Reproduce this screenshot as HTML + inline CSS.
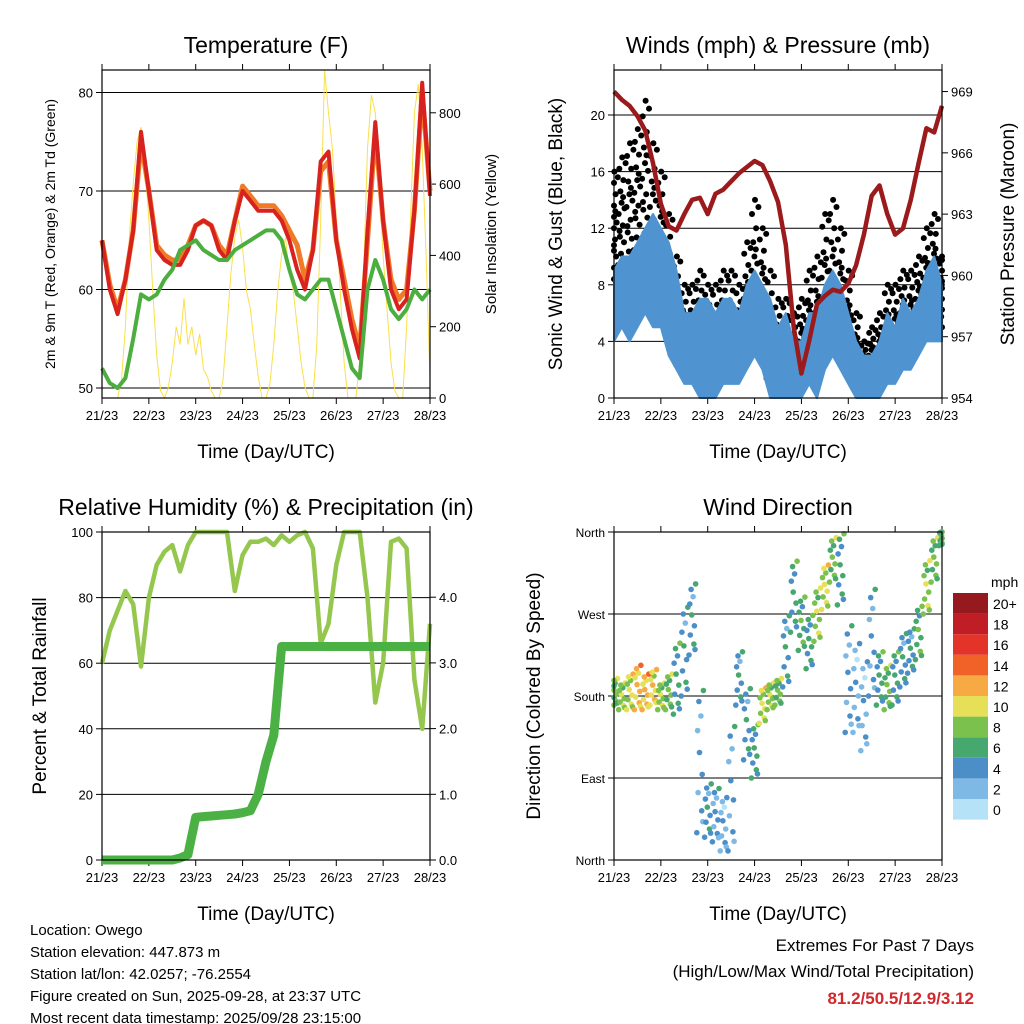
<!DOCTYPE html>
<html><head><meta charset="utf-8"><style>
body{margin:0;background:#fff}
svg{display:block;font-family:"Liberation Sans",sans-serif}
</style></head><body>
<svg id="c" width="1024" height="1024" viewBox="0 0 1024 1024">
<g id="layer"></g>
<g font-size="15" fill="#000">
<text x="30" y="935">Location: Owego</text>
<text x="30" y="957">Station elevation: 447.873 m</text>
<text x="30" y="979">Station lat/lon: 42.0257; -76.2554</text>
<text x="30" y="1001">Figure created on Sun, 2025-09-28, at 23:37 UTC</text>
<text x="30" y="1023">Most recent data timestamp: 2025/09/28 23:15:00</text>
</g>
<g text-anchor="end" font-size="17">
<text x="974" y="951">Extremes For Past 7 Days</text>
<text x="974" y="977">(High/Low/Max Wind/Total Precipitation)</text>
<text x="974" y="1004" fill="#d0282d" font-weight="bold">81.2/50.5/12.9/3.12</text>
</g>
</svg>
<script>
// ---- data (hours 0..168 every 4h unless noted) ----
const tempT2 = [65,60,57.5,61,66,76,70,64,63,62.5,62.5,64,66.5,67,66.5,64,63,67,70,69,68,68,68,67,65,62,60,64,73,74,65,60,56,53,66,77,67,60,58,59,68,81,69.5];
const tempT9 = [65,60.5,58,61,66,75,70,64.5,63.5,63,63,64.5,66.5,67,66.5,64.5,63.5,67,70.5,69.5,68.5,68.5,68.5,67.5,66,64.5,61,64,72,73,65,61,57,54,65,76,67,61,59,60,68,80,70];
const dewTd = [52,50.5,50,51,55,59.5,59,59.5,61,62,64,64.5,65,64,63.5,63,63,64,64.5,65,65.5,66,66,65,62,59.5,59,60,61,61,58,55,52,51,60,63,61,58,57,58,60,59,60];
// solar every 2h
const solar = [0,0,0,0,0,50,200,450,600,720,760,650,500,300,120,20,0,30,100,200,150,280,150,200,120,180,80,60,20,0,0,50,200,350,450,500,420,300,250,150,60,0,0,40,150,300,400,450,350,300,200,100,30,0,0,150,500,920,800,700,500,300,100,0,0,0,100,350,700,850,800,600,400,250,100,20,0,0,200,500,800,880,700,400,50];
const windLo = [4,5,4,5,6,5,5,3,2,1,1,0,0,0,1,1,1,2,3,2,0,0,0,0,0,1,0,2,3,2,1,0,0,0,0,1,1,2,2,3,4,4,4];
const windHi = [9,10,10,11,12,13,12,11,9,6,6,7,7,6,7,7,6,8,9,8,7,5,6,4,4,6,6,8,9,8,6,4,3,3,4,6,5,7,6,7,9,10,8];
const gustLo = [8,9,9,10,10,9,8,5,3,2,2,2,1,1,2,2,2,3,4,4,1,1,1,1,1,2,2,4,4,4,2,1,1,1,1,2,2,3,3,4,5,6,5];
const gustHi = [16,17,18,19,21,18,16,13,10,8,8,9,8,8,9,9,8,11,14,12,9,7,7,6,7,9,10,13,14,12,9,6,4,5,6,8,8,9,9,10,12,13,10];
const pressure = [969,968.6,968.3,967.8,967.1,965.5,963.5,962.4,962.2,963,963.7,963.8,963,964,964.2,964.6,965,965.3,965.6,965.4,964.6,963.6,961.5,957.5,955.2,956.8,958.6,959,959.3,959.2,959.6,960.5,962,963.9,964.4,963,962,962.3,963.7,965.5,967.2,967,968.3];
const rh = [60,70,76,82,78,59,80,90,94,96,88,96,100,100,100,100,100,82,93,97,97,98,96,99,97,99,100,95,66,72,90,100,100,100,80,48,60,97,98,95,55,40,72];
const precip = [0,0,0,0,0,0,0,0,0,0,0.03,0.08,0.65,0.66,0.67,0.68,0.69,0.7,0.72,0.75,1.0,1.5,1.9,3.25,3.25,3.25,3.25,3.25,3.25,3.25,3.25,3.25,3.25,3.25,3.25,3.25,3.25,3.25,3.25,3.25,3.25,3.25,3.25];
const windDir = [185,180,185,190,185,190,180,185,200,230,265,110,55,50,40,80,200,150,120,170,180,185,230,290,260,240,270,300,330,320,200,190,170,240,200,190,200,220,230,250,300,330,355];
const dirSpread = [15,15,20,25,20,20,15,20,40,50,40,80,30,30,30,70,30,40,30,20,15,15,40,40,30,30,30,25,25,40,60,50,50,60,30,25,30,30,25,30,30,25,10];
const dirSpeed = [7,8,9,11,11,10,8,7,5,4,4,3,4,3,2,3,4,4,5,9,8,7,4,5,6,5,8,9,7,5,3,2,2,3,5,7,5,4,4,6,8,7,6];
const dayTicks = ["21/23","22/23","23/23","24/23","25/23","26/23","27/23","28/23"];
const speedLevels = ["0","2","4","6","8","10","12","14","16","18","20+"];
const speedColors = ["#b5e2f7","#7db9e4","#4b8ec8","#47a86f","#7bc14e","#e6df58","#f7aa44","#f06228","#e3342a","#c01e26","#961a1d"];

const NS="http://www.w3.org/2000/svg";
const root=document.getElementById('layer');
function mk(tag,attrs,parent){const e=document.createElementNS(NS,tag);for(const k in attrs)e.setAttribute(k,attrs[k]);(parent||root).appendChild(e);return e;}
function txt(s,attrs,parent){const e=mk('text',attrs,parent);e.textContent=s;return e;}
const hrs4=[];for(let h=0;h<=168;h+=4)hrs4.push(h);
const hrs2=[];for(let h=0;h<=168;h+=2)hrs2.push(h);

function panel(name,x0,y0,title,xlab){
  const g=mk('g',{});
  
  
  const P={g,x0,y0,w:328,h:328,xs:h=>x0+h/168*328};
  const t=txt(title,{x:x0+164,y:y0-17,'text-anchor':'middle','font-size':23},g);
  
  
  const xl=txt(xlab,{x:x0+164,y:y0+388,'text-anchor':'middle','font-size':19},g);
  
  
  dayTicks.forEach((d,i)=>{
    const xx=x0+i*328/7;
    mk('line',{x1:xx,x2:xx,y1:y0+328,y2:y0+334,stroke:'#000'},g);
    mk('line',{x1:xx,x2:xx,y1:y0,y2:y0-6,stroke:'#000'},g);
    const tl=txt(d,{x:xx,y:y0+350,'text-anchor':'middle','font-size':13},g);
    
    
  });
  return P;
}
function frame(P){mk('rect',{x:P.x0,y:P.y0,width:328,height:328,fill:'none',stroke:'#000','stroke-width':1.2},P.g);}
function yAxis(P,vals,labels,sc,side,grid,fs){
  vals.forEach((v,i)=>{
    const y=sc(v);
    if(grid) mk('line',{x1:P.x0,x2:P.x0+328,y1:y,y2:y,stroke:'#000','stroke-width':1},P.g);
    const xe=side==='l'?P.x0:P.x0+328, d=side==='l'?-6:6;
    mk('line',{x1:xe,x2:xe+d,y1:y,y2:y,stroke:'#000'},P.g);
    const t=txt(labels[i],{x:xe+(side==='l'?-9:9),y:y+5,'text-anchor':side==='l'?'end':'start','font-size':fs||13},P.g);
    
    
  });
}
function yTitle(P,s,x,fs,name){
  const cy=P.y0+164;
  const t=txt(s,{x:x,y:cy,'text-anchor':'middle','font-size':fs,transform:`rotate(-90 ${x} ${cy})`},P.g);
  
  
}
function pts(xs,ys,P,sx,sy){return xs.map((h,i)=>P.xs(h).toFixed(1)+','+sy(ys[i]).toFixed(1)).join(' ');}

// ---- Panel 1: Temperature ----
{
const P=panel('temperature-panel',102,70,'Temperature (F)','Time (Day/UTC)');
const yT=v=>388-(v-50)*9.85;
const yS=v=>398-v*0.3565;
yAxis(P,[50,60,70,80],['50','60','70','80'],yT,'l',true);
yAxis(P,[0,200,400,600,800],['0','200','400','600','800'],yS,'r',false);
const s=mk('polyline',{points:pts(hrs2,solar,P,null,yS),fill:'none',stroke:'#f9e04a','stroke-width':1},P.g);


const o=mk('polyline',{points:pts(hrs4,tempT9,P,null,yT),fill:'none',stroke:'#f07a25','stroke-width':5,'stroke-linejoin':'round'},P.g);


const r=mk('polyline',{points:pts(hrs4,tempT2,P,null,yT),fill:'none',stroke:'#d7221f','stroke-width':4,'stroke-linejoin':'round'},P.g);


const d=mk('polyline',{points:pts(hrs4,dewTd,P,null,yT),fill:'none',stroke:'#4cae3e','stroke-width':4,'stroke-linejoin':'round'},P.g);


frame(P);
yTitle(P,'2m & 9m T (Red, Orange) & 2m Td (Green)',55,14,'y-axis-title');
yTitle(P,'Solar Insolation (Yellow)',496,15,'y2-axis-title');
}
// ---- Panel 2: Winds & Pressure ----
{
const P=panel('winds-pressure-panel',614,70,'Winds (mph) & Pressure (mb)','Time (Day/UTC)');
const yW=v=>398-v*14.15;
const yP=v=>398-(v-954)*20.43;
yAxis(P,[0,4,8,12,16,20],['0','4','8','12','16','20'],yW,'l',true);
yAxis(P,[954,957,960,963,966,969],['954','957','960','963','966','969'],yP,'r',false);
const gf=[0.05,0.5,0.9,0.3,0.7,0.15,0.6,1,0.4,0.8,0.25,0.55,0.0,0.95,0.35,0.65];
const gt=[-1.9,-1.6,-1.3,-1.0,-0.7,-0.4,-0.1,0.2,0.5,0.8,1.1,1.4,1.7,1.95,-1.15,0.65];
hrs4.forEach((h,i)=>{
  gf.forEach((f,k)=>{
    const hh=Math.min(168,Math.max(0,h+gt[k]));
    const c=mk('circle',{cx:P.xs(hh).toFixed(1),cy:yW(gustLo[i]+f*(gustHi[i]-gustLo[i])).toFixed(1),r:3,fill:'#000'},P.g);
    
    
  });
});
const band=(lo,hi)=>pts(hrs4,hi,P,null,yW)+' '+pts(hrs4.slice().reverse(),lo.slice().reverse(),P,null,yW);
const wb=mk('polygon',{points:band(windLo,windHi),fill:'#4f94d0',stroke:'#4f94d0','stroke-width':2,'stroke-linejoin':'round'},P.g);


const pl=mk('polyline',{points:pts(hrs4,pressure,P,null,yP),fill:'none',stroke:'#9b1a1c','stroke-width':4.5,'stroke-linejoin':'round'},P.g);


frame(P);
yTitle(P,'Sonic Wind & Gust (Blue, Black)',562,19,'y-axis-title');
yTitle(P,'Station Pressure (Maroon)',1014,19,'y2-axis-title');
}
// ---- Panel 3: RH & Precip ----
{
const P=panel('humidity-precip-panel',102,532,'Relative Humidity (%) & Precipitation (in)','Time (Day/UTC)');
const yR=v=>860-v*3.28;
const yI=v=>860-v*65.7;
yAxis(P,[0,20,40,60,80,100],['0','20','40','60','80','100'],yR,'l',true);
yAxis(P,[0,1,2,3,4],['0.0','1.0','2.0','3.0','4.0'],yI,'r',false);
const rl=mk('polyline',{points:pts(hrs4,rh,P,null,yR),fill:'none',stroke:'#95c74f','stroke-width':4.5,'stroke-linejoin':'round'},P.g);


const pr=mk('polyline',{points:pts(hrs4,precip,P,null,yI),fill:'none',stroke:'#4cb144','stroke-width':9,'stroke-linejoin':'round'},P.g);


frame(P);
yTitle(P,'Percent & Total Rainfall',46,19,'y-axis-title');
}
// ---- Panel 4: Wind Direction ----
{
const P=panel('wind-direction-panel',614,532,'Wind Direction','Time (Day/UTC)');
const yD=v=>860-v/360*328;
yAxis(P,[0,90,180,270,360],['North','East','South','West','North'],yD,'l',true,12);
const dt=[-1.6,-0.9,-0.2,0.5,1.2,1.8,-1.2,0.9,-0.5,1.5];
const dd=[-1,-0.45,0.1,0.6,-0.2,0.95,0.4,-0.7,0.8,-0.85];
const ds=[0,-1,1,-2,0,2,-1,1,0,-1];
hrs4.forEach((h,i)=>{
  dt.forEach((t,k)=>{
    let hh=Math.min(168,Math.max(0,h+t));
    let dir=Math.min(360,Math.max(0,windDir[i]+dd[k]*dirSpread[i]));
    let sp=Math.max(0,dirSpeed[i]+ds[k]);
    const ci=Math.min(10,Math.round(sp/2));
    const c=mk('circle',{cx:P.xs(hh).toFixed(1),cy:yD(dir).toFixed(1),r:2.8,fill:speedColors[ci]},P.g);
    
    
  });
});
frame(P);
yTitle(P,'Direction (Colored By Speed)',540,19,'y-axis-title');
const lg=mk('g',{},P.g);


txt('mph',{x:991,y:587,'font-size':14},lg);
speedLevels.forEach((l,i)=>{
  const y=799-i*20.6;
  const r=mk('rect',{x:953,y:y,width:35,height:20.6,fill:speedColors[i]},lg);
  
  
  txt(l,{x:993,y:y+16,'font-size':14},lg);
});
}
</script>
</body></html>
